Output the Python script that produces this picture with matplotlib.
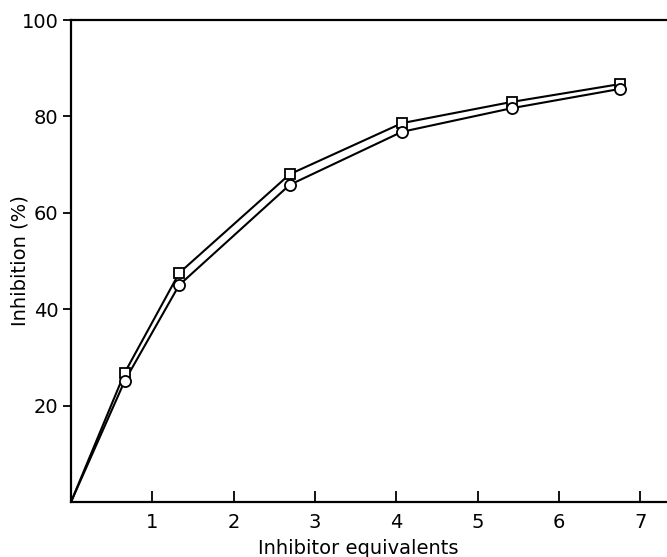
import matplotlib
matplotlib.use("Agg")
import matplotlib.pyplot as plt

equivalents = [0, 0.66, 1.33, 2.69, 4.07, 5.42, 6.75]
inhibition_squares = [0, 26.8, 47.5, 68.0, 78.6, 83.0, 86.7]
inhibition_circles = [0, 25.1, 45.0, 65.8, 76.8, 81.7, 85.7]
xticks = [1, 2, 3, 4, 5, 6, 7]
yticks = [20, 40, 60, 80, 100]

plt.rcParams['font.family'] = ['Liberation Sans Narrow', 'DejaVu Sans']

fig = plt.figure(figsize=(6.67, 5.57), dpi=100)
ax = fig.add_axes([71/667, 55/557, 1 - 71/667, (502-20)/557])

ax.plot(equivalents, inhibition_squares, color='black', lw=1.5, zorder=2)
ax.plot(equivalents[1:], inhibition_squares[1:], ls='none', marker='s', ms=7.5,
        mfc='white', mec='black', mew=1.3, zorder=3)
ax.plot(equivalents, inhibition_circles, color='black', lw=1.5, zorder=2)
ax.plot(equivalents[1:], inhibition_circles[1:], ls='none', marker='o', ms=8,
        mfc='white', mec='black', mew=1.3, zorder=4)

ax.set_xlim(0, 7.33)
ax.set_ylim(0, 100)
ax.set_xticks(xticks)
ax.set_yticks(yticks)
ax.tick_params(axis='x', direction='in', length=8, width=1.3, labelsize=14, pad=8)
ax.tick_params(axis='y', direction='out', length=6, width=1.3, labelsize=14, pad=3)
for s in ['left', 'bottom', 'top']:
    ax.spines[s].set_linewidth(1.6)
ax.spines['right'].set_visible(False)

ax.set_xlabel('Inhibitor equivalents', fontsize=14)
ax.xaxis.set_label_coords(0.482, -0.077)
ax.set_ylabel('Inhibition (%)', fontsize=14)
ax.yaxis.set_label_coords(-0.07, 0.5)

fig.savefig('out.png', dpi=100)
